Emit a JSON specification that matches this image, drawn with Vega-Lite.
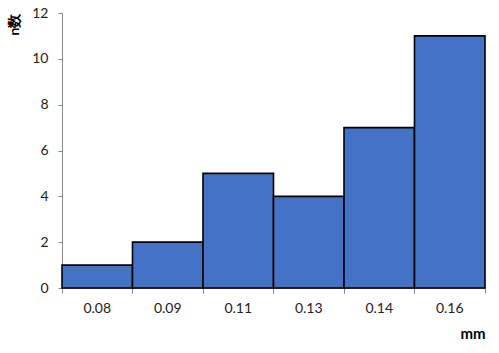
{
  "$schema": "https://vega.github.io/schema/vega-lite/v6.json",
  "width": 423,
  "height": 275,
  "autosize": "none",
  "padding": {"left": 62, "top": 13, "right": 14, "bottom": 65},
  "background": "white",
  "config": {"view": {"stroke": null}, "font": "Lato"},
  "data": {"values": [
    {"mm": "0.08", "n": 1},
    {"mm": "0.09", "n": 2},
    {"mm": "0.11", "n": 5},
    {"mm": "0.13", "n": 4},
    {"mm": "0.14", "n": 7},
    {"mm": "0.16", "n": 11}
  ]},
  "layer": [
    {
      "mark": {"type": "bar", "color": "#4472C4", "stroke": "black", "strokeWidth": 1.6},
      "encoding": {
        "x": {"field": "mm", "type": "ordinal", "sort": null,
          "scale": {"paddingInner": 0, "paddingOuter": 0},
          "axis": {"title": "mm", "titleFont": "Lato", "titleFontSize": 15, "titleFontWeight": "bold",
            "titleAnchor": "end", "titleAlign": "right", "titleX": 423, "titleY": 38,
            "labelAngle": 0, "labelFontSize": 14, "labelColor": "#222", "labelPadding": 13,
            "ticks": false, "domain": true, "domainColor": "#888"}},
        "y": {"field": "n", "type": "quantitative",
          "scale": {"domain": [0, 12]},
          "axis": {"values": [0, 2, 4, 6, 8, 10, 12], "grid": false, "title": "n数",
            "titleFontSize": 14, "titleFontWeight": "bold", "titleAngle": -90,
            "titleAlign": "right", "titleBaseline": "bottom", "titleX": -41, "titleY": 0,
            "labelFontSize": 14, "labelColor": "#222", "labelPadding": 10,
            "tickSize": 4, "tickColor": "#888", "domainColor": "#888"}}
      }
    },
    {
      "mark": {"type": "bar", "opacity": 0},
      "encoding": {
        "x": {"field": "mm", "type": "ordinal", "sort": null,
          "scale": {"paddingInner": 0, "paddingOuter": 0},
          "axis": {"orient": "bottom", "title": null, "labels": false, "domain": false,
            "bandPosition": 0, "tickSize": 5, "tickColor": "#888"}},
        "y": {"field": "n", "type": "quantitative"}
      }
    },
    {
      "mark": {"type": "bar", "opacity": 0},
      "encoding": {
        "x": {"field": "mm", "type": "ordinal", "sort": null,
          "scale": {"paddingInner": 0, "paddingOuter": 0},
          "axis": {"orient": "bottom", "title": null, "labels": false, "domain": false,
            "bandPosition": 1, "tickSize": 5, "tickColor": "#888"}},
        "y": {"field": "n", "type": "quantitative"}
      }
    }
  ],
  "resolve": {"axis": {"x": "independent"}}
}
